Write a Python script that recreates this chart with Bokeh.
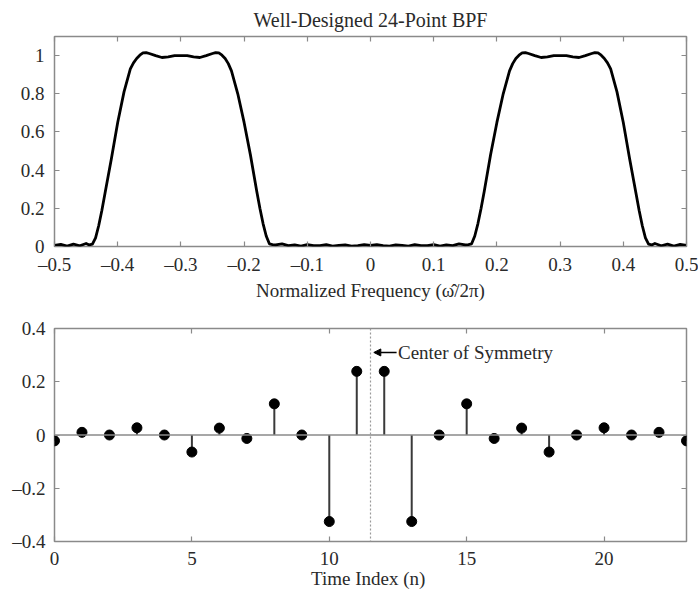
from bokeh.plotting import figure
from bokeh.layouts import column
from bokeh.models import (FixedTicker, LinearAxis, CustomJSTickFormatter, Span,
                          Arrow, NormalHead, Label, ColumnDataSource)
from bokeh.embed import file_html
from bokeh.resources import INLINE

# ---------------- data ----------------
title_text = "Well-Designed 24-Point BPF"
freq_pos = [0.00, 0.01, 0.02, 0.03, 0.04, 0.05, 0.06, 0.07, 0.08, 0.09,
            0.10, 0.11, 0.12, 0.13, 0.14, 0.15, 0.155, 0.16, 0.165, 0.17, 0.175,
            0.18, 0.19, 0.20, 0.21, 0.22, 0.225, 0.23, 0.235, 0.24, 0.245, 0.25,
            0.26, 0.27, 0.28, 0.29, 0.30, 0.31, 0.32, 0.33, 0.34, 0.35, 0.355,
            0.36, 0.365, 0.37, 0.375, 0.38, 0.39, 0.40, 0.41, 0.42, 0.425, 0.43,
            0.435, 0.44, 0.445, 0.45, 0.46, 0.47, 0.48, 0.49, 0.50]
mag_pos = [0.006, 0.010, 0.005, 0.002, 0.009, 0.006, 0.002, 0.010, 0.005, 0.004,
           0.010, 0.002, 0.009, 0.005, 0.014, 0.008, 0.010, 0.014, 0.055, 0.120, 0.200,
           0.290, 0.480, 0.650, 0.800, 0.920, 0.958, 0.985, 1.002, 1.014, 1.016, 1.011,
           1.000, 0.990, 0.993, 1.000, 1.000, 1.000, 0.993, 0.990, 1.000, 1.011, 1.016,
           1.014, 1.002, 0.985, 0.962, 0.930, 0.810, 0.650, 0.460, 0.280, 0.190, 0.110,
           0.045, 0.012, 0.008, 0.016, 0.004, 0.012, 0.002, 0.011, 0.006]
freq = [-f for f in freq_pos[:0:-1]] + freq_pos
mag = mag_pos[:0:-1] + mag_pos

n_idx = list(range(24))
h_vals = [-0.022, 0.010, 0.000, 0.027, 0.000, -0.064, 0.026, -0.013, 0.117, 0.000,
          -0.325, 0.239, 0.239, -0.325, 0.000, 0.117, -0.013, 0.026, -0.064, 0.000,
          0.027, 0.000, 0.010, -0.022]

top_xticks = [-0.5, -0.4, -0.3, -0.2, -0.1, 0.0, 0.1, 0.2, 0.3, 0.4, 0.5]
top_yticks = [0.0, 0.2, 0.4, 0.6, 0.8, 1.0]
bot_xticks = [0, 5, 10, 15, 20]
bot_yticks = [-0.4, -0.2, 0.0, 0.2, 0.4]
center_sym = 11.5
annot_text = "Center of Symmetry"

FONT = "Liberation Serif"
TXT = "#2a2a2a"
FRAME = "#8a8a8a"
FS = "19px"

fmt_code = """
if (Math.abs(tick) < 1e-9) { return "0"; }
var s = (Math.abs(tick - Math.round(tick)) < 1e-9) ? tick.toFixed(0) : tick.toFixed(1);
return s.replace("-", "\\u2013");
"""


def style(p, xt, yt):
    p.xaxis.ticker = FixedTicker(ticks=xt)
    p.yaxis.ticker = FixedTicker(ticks=yt)
    p.xgrid.visible = False
    p.ygrid.visible = False
    p.outline_line_color = FRAME
    p.outline_line_width = 1.5
    p.add_layout(LinearAxis(ticker=FixedTicker(ticks=xt),
                            formatter=CustomJSTickFormatter(code="return '';")), "above")
    p.add_layout(LinearAxis(ticker=FixedTicker(ticks=yt),
                            formatter=CustomJSTickFormatter(code="return '';")), "right")
    for ax in p.above + p.below + p.left + p.right:
        ax.major_tick_in = 5
        ax.major_tick_out = 0
        ax.minor_tick_line_color = None
        ax.axis_line_color = None
        ax.major_tick_line_color = FRAME
        ax.major_tick_line_width = 1.2
        ax.major_label_text_font = FONT
        ax.major_label_text_font_size = FS
        ax.major_label_text_color = TXT
        ax.axis_label_text_font = FONT
        ax.axis_label_text_font_size = FS
        ax.axis_label_text_font_style = "normal"
        ax.axis_label_text_color = TXT
    for ax in p.above + p.right:
        ax.major_label_text_font_size = "0px"
        ax.major_label_standoff = 0
    for ax in p.below + p.left:
        ax.formatter = CustomJSTickFormatter(code=fmt_code)
    for ax in p.left:
        ax.major_label_standoff = 10


# ---------------- top: frequency response ----------------
p1 = figure(width=698, height=303, x_range=(-0.5, 0.5), y_range=(0, 1.1),
            output_backend="svg", toolbar_location=None,
            min_border_left=50, min_border_right=12, min_border_top=0,
            min_border_bottom=10)
p1.title.text = title_text
p1.title.align = "center"
p1.title.text_font = FONT
p1.title.text_font_size = "20px"
p1.title.text_font_style = "normal"
p1.title.text_color = TXT
p1.title.standoff = 12
style(p1, top_xticks, top_yticks)
p1.below[0].axis_label = "Normalized Frequency (\u03c9\u0302/2\u03c0)"
p1.below[0].axis_label_standoff = 2
p1.below[0].major_label_standoff = 7
p1.line(freq, mag, line_color="black", line_width=2.8, line_join="round")

# ---------------- bottom: impulse response ----------------
p2 = figure(width=698, height=288, x_range=(0, 23), y_range=(-0.4, 0.4),
            output_backend="svg", toolbar_location=None,
            min_border_left=54, min_border_right=10, min_border_top=25,
            min_border_bottom=10)
style(p2, bot_xticks, bot_yticks)
p2.left[0].major_label_standoff = 9
p2.below[0].axis_label = "Time Index  (n)"
p2.below[0].axis_label_standoff = 0
p2.below[0].major_label_standoff = 10

p2.add_layout(Span(location=0, dimension="width", line_color="#8a8a8a", line_width=1.6))
p2.add_layout(Span(location=center_sym, dimension="height", line_color="#9a9a9a",
                   line_width=1.2, line_dash="2 2"))
src = ColumnDataSource(dict(n=n_idx, h=h_vals, z=[0] * len(n_idx)))
p2.segment(x0="n", y0="z", x1="n", y1="h", source=src, line_color="#3a3a3a", line_width=2)
p2.scatter(x="n", y="h", source=src, size=10, fill_color="black", line_color="black")

p2.add_layout(Arrow(end=NormalHead(size=7, fill_color="black", line_color="black"),
                    x_start=12.45, y_start=0.31, x_end=11.62, y_end=0.31,
                    line_color="black", line_width=1.6))
p2.add_layout(Label(x=12.5, y=0.31, text=annot_text, text_baseline="middle",
                    text_font=FONT, text_font_size=FS, text_color=TXT))

layout = column(p1, p2, spacing=0)
open("out.html", "w").write(file_html(layout, INLINE))
